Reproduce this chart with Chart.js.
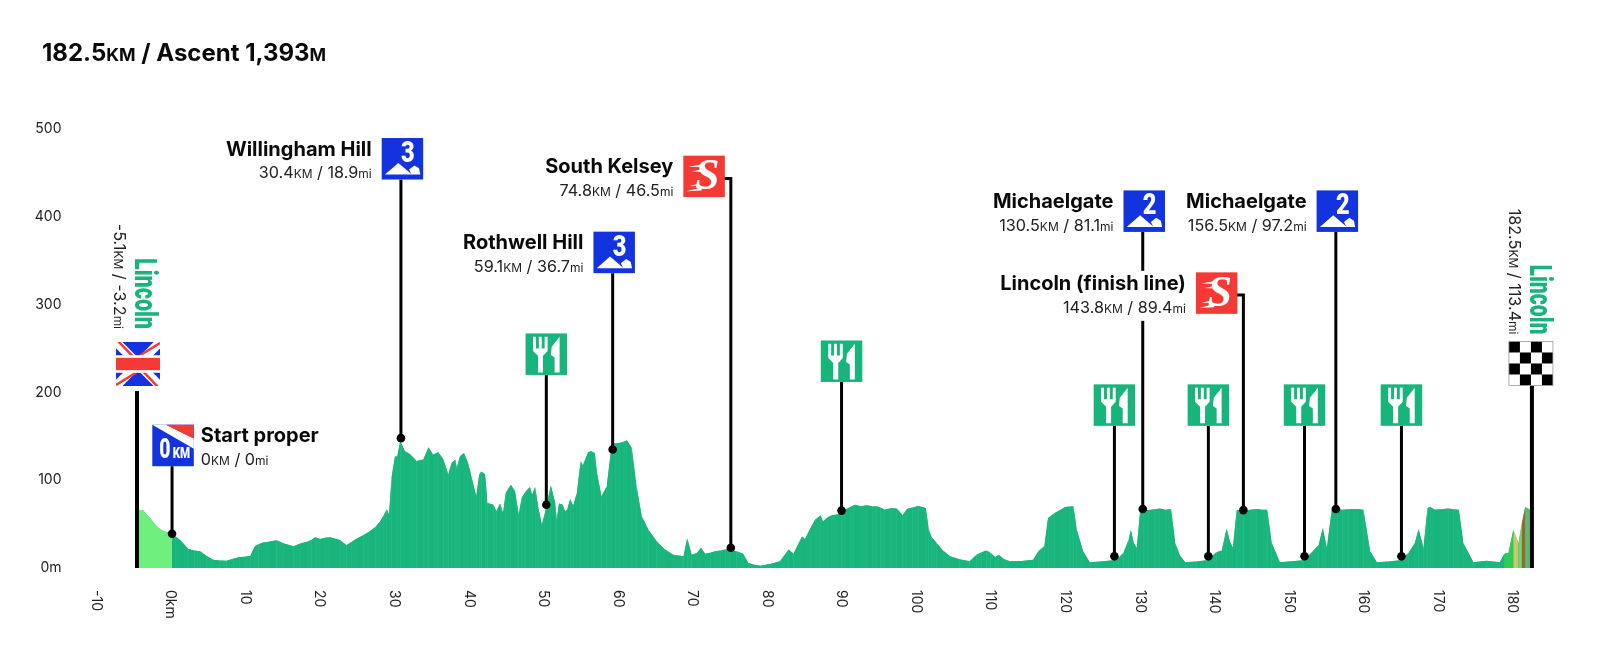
<!DOCTYPE html>
<html>
<head>
<meta charset="utf-8">
<title>Stage profile</title>
<script src="https://cdn.jsdelivr.net/npm/chart.js@4/dist/chart.umd.min.js"></script>
<style>
  html, body { margin: 0; background: #fff; }
  #wrap { width: 1600px; height: 650px; }
</style>
</head>
<body>
<div id="wrap"><canvas id="profile" width="1600" height="650"></canvas></div>
<script>
// elevation profile (km along the route, metres)
const profileKm = [
  -4.65, -4.2, -3.85, -3.4, -2.95, -2.5, -2.05, -1.4, -0.7, -0.3,
  0, 0.5, 1.07, 1.6, 2.19, 3, 3.76, 4.6, 5.5, 6.4,
  7.3, 8.2, 9.1, 9.8, 10.5, 11.1, 11.6, 12.2, 13, 14,
  15, 16.3, 17.2, 18.1, 18.7, 19.2, 19.85, 20.5, 21.2, 22.5,
  23.4, 24.1, 24.8, 25.7, 26.55, 27.3, 27.9, 28.4, 28.8, 29.1,
  29.45, 29.9, 30.2, 30.6, 31.25, 31.9, 32.8, 33.7, 34.4, 35,
  35.7, 36.4, 37.05, 37.5, 38, 38.2, 38.6, 39.15, 39.7, 40.2,
  40.8, 41.2, 41.5, 42, 42.3, 43.1, 43.5, 44, 44.4, 44.75,
  45.45, 46, 46.5, 46.9, 47.4, 48, 48.3, 48.7, 49.1, 49.6,
  50, 50.4, 50.8, 51.4, 51.6, 51.9, 52.4, 52.7, 53, 53.4,
  53.8, 54.3, 54.8, 55.1, 55.8, 56.2, 56.7, 57, 57.6, 58.3,
  59, 59.5, 60.1, 60.6, 61, 61.65, 62.3, 63, 63.9, 65,
  66, 67.2, 68.6, 69.1, 69.7, 70.4, 70.95, 71.5, 72.2, 72.8,
  73.6, 74.2, 74.8, 75.7, 76.6, 77.3, 78.0, 78.9, 80.2, 81.55,
  82.7, 83.35, 84.5, 84.9, 85.6, 86.25, 87, 87.3, 88, 88.5,
  89.2, 89.8, 90.4, 90.95, 91.6, 92.4, 93.2, 94, 94.5, 95,
  95.6, 96.4, 97.2, 98, 98.55, 99.3, 100.1, 101.1, 101.5, 101.9,
  102.55, 103.4, 104.35, 105.6, 107, 107.9, 108.6, 109.25, 109.8, 110.4,
  110.9, 111.6, 112.4, 114, 115.5, 116.2, 117, 117.5, 118.4, 119.1,
  119.8, 120.4, 120.9, 121.35, 122.2, 123.1, 124.6, 126.25, 127, 127.6,
  128.3, 128.6, 129, 129.4, 129.85, 130.3, 131, 131.8, 132.5, 133.2,
  134, 134.55, 135.2, 135.9, 137.4, 138.8, 140.1, 140.8, 141.45, 141.9,
  142.3, 142.8, 143.7, 144.6, 145.5, 146.2, 146.9, 147.5, 148.6, 150.2,
  151.75, 152.9, 153.8, 154.35, 154.9, 155.55, 156.3, 157, 157.8, 158.5,
  159.2, 159.8, 160.7, 161.6, 163.2, 164.7, 165.85, 166.7, 167.2, 167.85,
  168.4, 168.75, 169.4, 170.2, 171.2, 171.9, 172.6, 173.2, 174.55, 176.3,
  178.1, 178.7, 179.25, 179.9, 180.6, 181.05, 181.5, 182.15, 182.5
];
const profileM = [
  66.5, 66, 65.5, 61, 57, 52, 47.5, 43, 40.7, 41,
  38, 36, 32, 27, 21.7, 20, 19, 14, 9.5, 8.6,
  8.4, 10.5, 12.5, 12.8, 14, 24.7, 27, 29, 30, 31.5,
  28, 24.7, 28, 30, 32, 35, 33, 34.5, 35, 32,
  26, 30, 33.5, 37.5, 42, 47, 53, 60, 67, 61,
  104, 127, 127, 144.5, 133, 130, 122, 123.6, 137.6, 129,
  132, 123.6, 106.5, 120, 123.6, 114, 127, 131, 120, 102.7,
  81.7, 106.5, 110, 106.5, 74, 72, 64.6, 73.4, 62.7, 85.5,
  95, 87.5, 61, 80, 87, 92.4, 83.6, 92.4, 70, 49.4,
  62.7, 78, 94, 74, 55, 73.4, 72, 64.6, 66.5, 78.7,
  71, 85.5, 121.7, 116.7, 132, 133, 131, 108, 81.7, 93,
  142.6, 142, 142.6, 144, 145.6, 137, 93, 59, 43.7, 30.4,
  22, 15.2, 13.3, 34, 15, 17, 23, 16.3, 17.5, 19,
  20, 21, 21.7, 19, 16.3, 5.7, 4, 2.7, 4.5, 7.6,
  21, 16.3, 36, 33, 45, 55, 60, 53, 58, 60,
  61, 63, 67, 69.6, 72, 70.5, 71.5, 70, 70.3, 69,
  66.5, 68, 67.7, 60, 67.3, 69, 70.7, 68.4, 43.7, 35,
  28.5, 20, 13.3, 10, 7.6, 15.2, 18, 20, 17, 12.5,
  14.8, 10, 7.6, 8, 9.5, 19, 24.7, 57, 62.7, 66,
  69.6, 70, 70.3, 43.7, 19, 6.5, 7.5, 8.7, 12, 17,
  32, 43.7, 28.5, 22.8, 64.6, 66.5, 66, 67, 67.7, 66.5,
  67, 28.5, 14, 6.5, 7.5, 8.7, 18, 20, 45, 30,
  23, 66.5, 64.6, 66.5, 67.3, 66.5, 66.5, 28.5, 6.5, 7.8,
  8.7, 18, 26.6, 45.6, 22.8, 66.5, 67.5, 66.5, 67, 67.3,
  67, 66.5, 19, 6.5, 7.5, 8.7, 17, 28.5, 44.5, 22.8,
  68.4, 69.6, 66.5, 67, 67.7, 67, 66.5, 28.5, 6.5, 8.4,
  6.5, 16.3, 17, 43.7, 28.5, 51, 69.6, 66.5, 63
];

// coloured patches of the profile: everything else is the main green
const bandStartKm = [-4.7, 0, 178.6, 179.5, 180, 180.5, 180.8, 181, 181.15, 181.5];
const bandColours = ["#6ff07e", "#17b57c", "#2fcb52", "#c9c968", "#35b8cf", "#7fd070", "#c9c968", "#a8641e", "#e0bd3e", "#5cb97d"];

// signs standing on the profile
const signKinds = ["start", "climb3", "climb3", "sprint", "climb2", "sprint", "climb2"];
const signNames = ["Start proper", "Willingham Hill", "Rothwell Hill", "South Kelsey", "Michaelgate", "Lincoln (finish line)", "Michaelgate"];
const signKmText = ["0", "30.4", "59.1", "74.8", "130.5", "143.8", "156.5"];
const signMiText = ["0", "18.9", "36.7", "46.5", "81.1", "89.4", "97.2"];
const signKm = [0, 30.7, 59.1, 74.95, 130.2, 143.7, 156.1];
const signDotM = [39, 148, 135, 23, 67.3, 66, 67.3];
const signFlagM = [116, 442.7, 336, 444, 383, 311, 383];

const foodKm = [50.2, 89.8, 126.4, 139, 151.9, 164.9];
const foodDotM = [72, 65.4, 13.3, 13.3, 13.3, 13.3];
const foodFlagM = [220, 212, 162, 162, 162, 162];

// start and finish posts
const postKm = [-4.7, 182.4];
const postTopM = [201.7, 208];

const yTicks = [0, 100, 200, 300, 400, 500];

const GREEN = "#17b57c";
const BLUE = "#1233dd";
const RED = "#f53a36";
const FONT = "Inter, 'Noto Sans', sans-serif";

function colourAt(km, i) {
  let c = bandColours[0];
  for (let b = 0; b < bandStartKm.length; b++) {
    if (km >= bandStartKm[b]) c = bandColours[b];
  }
  // two near identical tones, so each slice is filled on its own like the original
  if (c === GREEN && i % 2) return "#19b77e";
  return c;
}

const stemDatasets = [];
function addStem(points, width) {
  stemDatasets.push({
    data: points, borderColor: "#000", borderWidth: width, pointRadius: 0,
    fill: false, tension: 0, order: 1, borderCapStyle: "butt", borderJoinStyle: "miter"
  });
}
signKm.forEach((km, i) => {
  const pts = [{ x: km, y: signFlagM[i] }, { x: km, y: signDotM[i] }];
  if (signKinds[i] === "sprint") pts.unshift({ x: km - 1, y: signFlagM[i] });
  addStem(pts, 3);
});
foodKm.forEach((km, i) => addStem([{ x: km, y: foodFlagM[i] }, { x: km, y: foodDotM[i] }], 3));
postKm.forEach((km, i) => addStem([{ x: km, y: postTopM[i] }, { x: km, y: 0 }], 4));

// km text with the small "KM" / "mi" parts: pipes switch to the small size
function mixedWidth(ctx, text, size, weight) {
  let w = 0;
  text.split("|").forEach((part, i) => {
    ctx.font = weight + " " + (i % 2 ? size * 0.74 : size) + "px " + FONT;
    w += ctx.measureText(part).width;
  });
  return w;
}
function mixedText(ctx, text, x, y, size, weight, align, colour) {
  const w = mixedWidth(ctx, text, size, weight);
  let cx = align === "right" ? x - w : x;
  ctx.textAlign = "left";
  ctx.textBaseline = "alphabetic";
  ctx.fillStyle = colour;
  text.split("|").forEach((part, i) => {
    ctx.font = weight + " " + (i % 2 ? size * 0.74 : size) + "px " + FONT;
    ctx.fillText(part, cx, y + size * 0.36);
    cx += ctx.measureText(part).width;
  });
}
// squeezed bold lettering for the sign numbers and the town names
function narrowText(ctx, text, x, y, width, fontPx, colour) {
  ctx.save();
  ctx.font = "900 " + fontPx + "px Roboto, sans-serif";
  ctx.textAlign = "center";
  ctx.textBaseline = "alphabetic";
  ctx.fillStyle = colour;
  ctx.translate(x, y);
  ctx.scale(width / ctx.measureText(text).width, 1);
  ctx.fillText(text, 0, 0);
  ctx.restore();
}

function poly(ctx, pts, colour) {
  ctx.fillStyle = colour;
  ctx.beginPath();
  pts.forEach((p, i) => (i ? ctx.lineTo(p[0], p[1]) : ctx.moveTo(p[0], p[1])));
  ctx.closePath();
  ctx.fill();
}

function climbSign(ctx, x, y, s, n) {
  ctx.fillStyle = BLUE;
  ctx.fillRect(x, y, s, s);
  narrowText(ctx, n, x + s * 0.63, y + s * 0.58, s * 0.33, s * 0.7, "#fff");
  poly(ctx, [[x + s * 0.08, y + s * 0.88], [x + s * 0.4, y + s * 0.6], [x + s * 0.73, y + s * 0.88]], "#fff");
  poly(ctx, [[x + s * 0.66, y + s * 0.76], [x + s * 0.79, y + s * 0.66], [x + s * 0.9, y + s * 0.73], [x + s * 0.93, y + s * 0.88], [x + s * 0.72, y + s * 0.88]], "#fff");
}

function sprintSign(ctx, x, y, s) {
  ctx.fillStyle = RED;
  ctx.fillRect(x, y, s, s);
  ctx.save();
  ctx.font = "italic 700 " + s * 1.05 + "px 'Liberation Serif', serif";
  ctx.textAlign = "center";
  ctx.textBaseline = "middle";
  ctx.fillStyle = "#fff";
  ctx.fillText("S", x + s * 0.58, y + s * 0.53);
  ctx.restore();
  poly(ctx, [[x + s * 0.12, y + s * 0.27], [x + s * 0.5, y + s * 0.2], [x + s * 0.48, y + s * 0.28]], "#fff");
  poly(ctx, [[x + s * 0.2, y + s * 0.38], [x + s * 0.48, y + s * 0.32], [x + s * 0.46, y + s * 0.39]], "#fff");
  poly(ctx, [[x + s * 0.08, y + s * 0.86], [x + s * 0.44, y + s * 0.76], [x + s * 0.44, y + s * 0.84]], "#fff");
  poly(ctx, [[x + s * 0.14, y + s * 0.73], [x + s * 0.38, y + s * 0.68], [x + s * 0.38, y + s * 0.74]], "#fff");
}

function foodSign(ctx, x, y, s) {
  ctx.fillStyle = GREEN;
  ctx.fillRect(x, y, s, s);
  ctx.fillStyle = "#fff";
  // fork
  ctx.fillRect(x + s * 0.18, y + s * 0.08, s * 0.07, s * 0.3);
  ctx.fillRect(x + s * 0.32, y + s * 0.08, s * 0.07, s * 0.3);
  ctx.fillRect(x + s * 0.46, y + s * 0.08, s * 0.07, s * 0.3);
  poly(ctx, [[x + s * 0.18, y + s * 0.36], [x + s * 0.53, y + s * 0.36], [x + s * 0.53, y + s * 0.42], [x + s * 0.42, y + s * 0.54], [x + s * 0.42, y + s * 0.94], [x + s * 0.3, y + s * 0.94], [x + s * 0.3, y + s * 0.54], [x + s * 0.18, y + s * 0.42]], "#fff");
  // knife
  poly(ctx, [[x + s * 0.82, y + s * 0.08], [x + s * 0.82, y + s * 0.94], [x + s * 0.7, y + s * 0.94], [x + s * 0.7, y + s * 0.58], [x + s * 0.61, y + s * 0.52], [x + s * 0.63, y + s * 0.32]], "#fff");
}

function startSign(ctx, x, y, s) {
  ctx.fillStyle = BLUE;
  ctx.fillRect(x, y, s, s);
  poly(ctx, [[x, y], [x + s * 0.33, y], [x + s, y + s * 0.33], [x + s, y + s * 0.58]], "#fff");
  poly(ctx, [[x + s * 0.33, y], [x + s, y], [x + s, y + s * 0.33]], RED);
  narrowText(ctx, "0", x + s * 0.3, y + s * 0.8, s * 0.27, s * 0.68, "#fff");
  narrowText(ctx, "KM", x + s * 0.7, y + s * 0.8, s * 0.42, s * 0.34, "#fff");
}

function unionFlag(ctx, x, y, w, h) {
  ctx.save();
  ctx.beginPath();
  ctx.rect(x, y, w, h);
  ctx.clip();
  ctx.fillStyle = BLUE;
  ctx.fillRect(x, y, w, h);
  ctx.lineCap = "butt";
  ctx.strokeStyle = "#fff";
  ctx.lineWidth = 9;
  ctx.beginPath();
  ctx.moveTo(x, y); ctx.lineTo(x + w, y + h);
  ctx.moveTo(x + w, y); ctx.lineTo(x, y + h);
  ctx.stroke();
  ctx.strokeStyle = RED;
  ctx.lineWidth = 2.5;
  ctx.beginPath();
  ctx.moveTo(x + 2, y - 1); ctx.lineTo(x + w * 0.5, y + h * 0.45);
  ctx.moveTo(x + w, y + 1); ctx.lineTo(x + w * 0.55, y + h * 0.3);
  ctx.moveTo(x + w - 2, y + h + 1); ctx.lineTo(x + w * 0.5, y + h * 0.55);
  ctx.moveTo(x, y + h - 1); ctx.lineTo(x + w * 0.45, y + h * 0.7);
  ctx.stroke();
  ctx.fillStyle = "#fff";
  ctx.fillRect(x, y + h * 0.3, w, h * 0.4);
  ctx.fillStyle = RED;
  ctx.fillRect(x, y + h * 0.36, w, h * 0.28);
  ctx.restore();
}

function checkerFlag(ctx, x, y, s) {
  const cell = s / 4;
  ctx.fillStyle = "#fff";
  ctx.fillRect(x, y, s, s);
  ctx.fillStyle = "#000";
  for (let r = 0; r < 4; r++) {
    for (let c = 0; c < 4; c++) {
      if ((r + c) % 2 === 0) ctx.fillRect(x + c * cell, y + r * cell, cell, cell);
    }
  }
  ctx.strokeStyle = "#999";
  ctx.lineWidth = 0.8;
  ctx.strokeRect(x, y, s, s);
}

// text written downwards, ending at yEnd
function downText(ctx, draw, cx, yEnd) {
  ctx.save();
  ctx.translate(cx, yEnd);
  ctx.rotate(Math.PI / 2);
  draw();
  ctx.restore();
}

const stagePlugin = {
  id: "stage",
  afterDatasetsDraw(chart) {
    const ctx = chart.ctx;
    const x = chart.scales.x;
    const y = chart.scales.y;
    const S = 41.5;

    mixedText(ctx, "182.5|KM| / Ascent 1,393|M|", 42, 52, 24, 700, "left", "#0a0a0a");

    // rotated tick labels, top of the text facing right
    ctx.save();
    ctx.fillStyle = "#222";
    ctx.font = "14px " + FONT;
    ctx.textAlign = "left";
    ctx.textBaseline = "middle";
    x.ticks.forEach((t, i) => {
      ctx.save();
      ctx.translate(x.getPixelForTick(i) - 1.5, y.bottom + 22);
      ctx.rotate(Math.PI / 2);
      ctx.fillText(t.label, 0, 0);
      ctx.restore();
    });
    ctx.restore();

    // food signs
    foodKm.forEach((km, i) => {
      foodSign(ctx, x.getPixelForValue(km) - S / 2, y.getPixelForValue(foodFlagM[i]) - S, S);
    });

    // named signs with labels
    signKm.forEach((km, i) => {
      const px = x.getPixelForValue(km);
      const py = y.getPixelForValue(signFlagM[i]);
      let fx = px - S / 2 + 1.5;
      let fy = py - S;
      if (signKinds[i] === "sprint") {
        fx = px - 6 - S;
        fy = py - S / 2 - 2;
      }
      if (signKinds[i] === "start") fx = px - S / 2 + 1;

      const sub = signKmText[i] + "|KM| / " + signMiText[i] + "|mi|";
      const right = signKinds[i] !== "start";
      const tx = right ? fx - 10 : fx + S + 7;
      const w = Math.max(mixedWidth(ctx, signNames[i], 20, 700), mixedWidth(ctx, sub, 16.2, 400));
      // the labels sit on a white plate, it breaks any stem behind them
      ctx.fillStyle = "#fff";
      ctx.fillRect(right ? tx - w - 2 : tx - 2, fy - 1.5, w + 4, S + 8.5);

      mixedText(ctx, signNames[i], tx, fy + 10.5, 20, 700, right ? "right" : "left", "#0a0a0a");
      mixedText(ctx, sub, tx, fy + 34.5, 16.2, 400, right ? "right" : "left", "#222");

      if (signKinds[i] === "start") startSign(ctx, fx, fy, S);
      else if (signKinds[i] === "sprint") sprintSign(ctx, fx, fy, S);
      else climbSign(ctx, fx, fy, S, signKinds[i].slice(-1));
    });

    // start post
    const p0 = x.getPixelForValue(postKm[0]);
    const t0 = y.getPixelForValue(postTopM[0]);
    unionFlag(ctx, p0 - 21, t0 - 49, 44, 44);
    downText(ctx, () => narrowText(ctx, "Lincoln", -35.5, 2, 71, 32, GREEN), p0, t0 - 62);
    downText(ctx, () => mixedText(ctx, "-5.1|KM| / -3.2|mi|", 0, 0, 16.2, 400, "right", "#222"), p0 - 17.5, t0 - 62);

    // finish post
    const p1 = x.getPixelForValue(postKm[1]);
    const t1 = y.getPixelForValue(postTopM[1]);
    checkerFlag(ctx, p1 - 23, t1 - 44, 44);
    downText(ctx, () => narrowText(ctx, "Lincoln", -35, 1.5, 70, 32, GREEN), p1, t1 - 51);
    downText(ctx, () => mixedText(ctx, "182.5|KM| / 113.4|mi|", 0, 0, 16.2, 400, "right", "#222"), p1 - 17.5, t1 - 51);
  }
};

const profilePoints = profileKm.map((km, i) => ({ x: km, y: profileM[i] }));

new Chart(document.getElementById("profile"), {
  type: "line",
  data: {
    datasets: [
      {
        // dots on top of the stems
        data: signKm.map((km, i) => ({ x: km, y: signDotM[i] }))
          .concat(foodKm.map((km, i) => ({ x: km, y: foodDotM[i] }))),
        showLine: false,
        pointRadius: 4.3,
        pointBackgroundColor: "#000",
        pointBorderWidth: 0,
        order: 0
      },
      ...stemDatasets,
      {
        data: profilePoints,
        borderWidth: 0,
        pointRadius: 0,
        tension: 0,
        fill: "origin",
        backgroundColor: GREEN,
        segment: {
          backgroundColor: (c) => colourAt(c.p0.parsed.x, c.p0DataIndex)
        },
        order: 2
      },
      {
        // solid layer underneath, only shows through the seams between slices
        data: profilePoints,
        borderWidth: 0,
        pointRadius: 0,
        tension: 0,
        fill: "origin",
        backgroundColor: "#2fc08c",
        order: 3
      }
    ]
  },
  plugins: [stagePlugin],
  options: {
    responsive: false,
    animation: false,
    layout: { padding: { top: 129.25, right: 48.7, left: 0, bottom: 0 } },
    plugins: { legend: { display: false }, tooltip: { enabled: false } },
    scales: {
      x: {
        type: "linear",
        min: -10,
        max: 185,
        afterFit: (s) => { s.height = 82; },
        grid: { display: false },
        border: { display: false },
        ticks: {
          display: false,
          stepSize: 10,
          includeBounds: false,
          callback: (v) => (v === 0 ? "0km" : String(v))
        }
      },
      y: {
        min: 0,
        max: 500,
        afterFit: (s) => { s.width = 97.5; },
        afterBuildTicks: (s) => { s.ticks = yTicks.map((v) => ({ value: v })); },
        grid: { display: false },
        border: { display: false },
        ticks: {
          padding: 28,
          color: "#222",
          font: { family: "Inter", size: 14 },
          callback: (v) => (v === 0 ? "0m" : String(v))
        }
      }
    }
  }
});
</script>
</body>
</html>
